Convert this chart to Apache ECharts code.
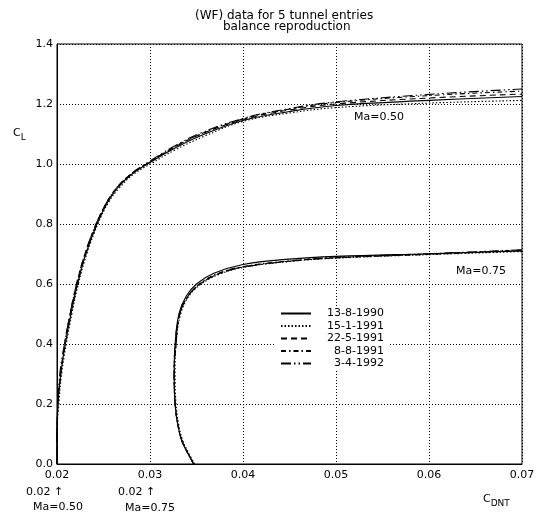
<!DOCTYPE html>
<html>
<head>
<meta charset="utf-8">
<script src="https://cdn.jsdelivr.net/npm/echarts@6/dist/echarts.min.js"></script>
<style>
  html, body { margin: 0; padding: 0; background: #fff; }
  #chart { width: 539px; height: 514px; }
</style>
</head>
<body>
<div id="chart"></div>
<script>
// legend names (tunnel entries)
const entries = ['13-8-1990', '15-1-1991', '22-5-1991', '8-8-1991', '3-4-1992'];

// Ma=0.50 polars [CDNT, CL]
const ma50_1 = [[0.0200,0.00],[0.0200,0.10],[0.0201,0.20],[0.0204,0.30],[0.0209,0.40],[0.0215,0.50],[0.0222,0.60],[0.0231,0.70],[0.0243,0.80],[0.0254,0.87],[0.0265,0.92],[0.0280,0.965],[0.0300,1.005],[0.0325,1.05],[0.0355,1.095],[0.0400,1.145],[0.0450,1.175],[0.0500,1.195],[0.0600,1.212],[0.0700,1.225]];
const ma50_2 = [[0.0200,0.00],[0.0200,0.10],[0.0202,0.20],[0.0205,0.30],[0.0210,0.40],[0.0216,0.50],[0.0223,0.60],[0.0232,0.70],[0.0244,0.80],[0.0255,0.87],[0.0267,0.92],[0.0282,0.965],[0.0302,1.003],[0.0327,1.047],[0.0358,1.092],[0.0400,1.142],[0.0450,1.170],[0.0500,1.188],[0.0600,1.203],[0.0700,1.212]];
const ma50_3 = [[0.0200,0.00],[0.0200,0.10],[0.0201,0.20],[0.0204,0.30],[0.0208,0.40],[0.0214,0.50],[0.0221,0.60],[0.0230,0.70],[0.0242,0.80],[0.0253,0.87],[0.0264,0.92],[0.0279,0.965],[0.0299,1.006],[0.0324,1.052],[0.0353,1.097],[0.0400,1.148],[0.0450,1.180],[0.0500,1.200],[0.0600,1.220],[0.0700,1.233]];
const ma50_4 = [[0.0200,0.00],[0.0200,0.10],[0.0201,0.20],[0.0204,0.30],[0.0209,0.40],[0.0215,0.50],[0.0222,0.60],[0.0231,0.70],[0.0243,0.80],[0.0254,0.87],[0.0265,0.92],[0.0280,0.966],[0.0300,1.007],[0.0324,1.053],[0.0353,1.098],[0.0400,1.150],[0.0450,1.183],[0.0500,1.205],[0.0600,1.228],[0.0700,1.243]];
const ma50_5 = [[0.0200,0.00],[0.0200,0.10],[0.0201,0.20],[0.0203,0.30],[0.0208,0.40],[0.0214,0.50],[0.0221,0.60],[0.0230,0.70],[0.0242,0.80],[0.0253,0.87],[0.0264,0.92],[0.0279,0.966],[0.0299,1.008],[0.0323,1.054],[0.0352,1.100],[0.0400,1.152],[0.0450,1.185],[0.0500,1.207],[0.0600,1.232],[0.0700,1.250]];

// Ma=0.75 polars [CDNT, CL]
const ma75_1 = [[0.0347,0.00],[0.0340,0.04],[0.0334,0.08],[0.0330,0.13],[0.0327,0.20],[0.0326,0.30],[0.0327,0.40],[0.0331,0.50],[0.0339,0.56],[0.0350,0.60],[0.0368,0.635],[0.0400,0.665],[0.0450,0.683],[0.0500,0.692],[0.0600,0.701],[0.0700,0.710]];
const ma75_2 = [[0.0348,0.00],[0.0341,0.04],[0.0335,0.08],[0.0331,0.13],[0.0328,0.20],[0.0327,0.30],[0.0328,0.40],[0.0333,0.50],[0.0342,0.56],[0.0355,0.60],[0.0375,0.633],[0.0400,0.655],[0.0450,0.675],[0.0500,0.686],[0.0600,0.698],[0.0700,0.708]];
const ma75_3 = [[0.0347,0.00],[0.0340,0.04],[0.0334,0.08],[0.0330,0.13],[0.0327,0.20],[0.0326,0.30],[0.0328,0.40],[0.0332,0.50],[0.0341,0.56],[0.0354,0.60],[0.0373,0.633],[0.0400,0.657],[0.0450,0.676],[0.0500,0.687],[0.0600,0.699],[0.0700,0.711]];
const ma75_4 = [[0.0347,0.00],[0.0340,0.04],[0.0334,0.08],[0.0330,0.13],[0.0327,0.20],[0.0326,0.30],[0.0328,0.40],[0.0332,0.50],[0.0341,0.56],[0.0353,0.60],[0.0372,0.634],[0.0400,0.658],[0.0450,0.677],[0.0500,0.688],[0.0600,0.700],[0.0700,0.713]];
const ma75_5 = [[0.0347,0.00],[0.0340,0.04],[0.0334,0.08],[0.0330,0.13],[0.0327,0.20],[0.0326,0.30],[0.0327,0.40],[0.0332,0.50],[0.0341,0.56],[0.0354,0.60],[0.0373,0.633],[0.0400,0.656],[0.0450,0.676],[0.0500,0.689],[0.0600,0.701],[0.0700,0.714]];

const ma50 = [ma50_1, ma50_2, ma50_3, ma50_4, ma50_5];
const ma75 = [ma75_1, ma75_2, ma75_3, ma75_4, ma75_5];

const dashes = ['solid', [1.5, 2], [6, 4], [5, 3, 1.5, 3], [10, 3, 1.5, 3, 1.5, 3]];
const FONT = 'DejaVu Sans';

let chart = echarts.init(document.getElementById('chart'), null, { renderer: 'canvas' });

let series = [];
entries.forEach(function (name, i) {
  [ma50[i], ma75[i]].forEach(function (d) {
    series.push({
      name: name,
      type: 'line',
      data: d,
      symbol: 'none',
      smooth: 0.4,
      lineStyle: { color: '#000', width: 1.1, type: dashes[i] },
      itemStyle: { color: '#000' },
      animation: false
    });
  });
});

var option = {
  backgroundColor: '#fff',
  animation: false,
  textStyle: { fontFamily: FONT, color: '#000' },
  title: [
    { text: '(WF) data for 5 tunnel entries', left: 190, top: 5,
      textStyle: { fontFamily: FONT, fontSize: 12, fontWeight: 'normal', color: '#000' } },
    { text: 'balance reproduction', left: 218, top: 16,
      textStyle: { fontFamily: FONT, fontSize: 12, fontWeight: 'normal', color: '#000' } }
  ],
  grid: { left: 57, right: 17, top: 44, bottom: 50, show: true, borderColor: '#000', borderWidth: 1 },
  legend: {
    data: entries,
    orient: 'vertical',
    left: 276,
    top: 306,
    itemWidth: 30,
    itemHeight: 8,
    itemGap: 1.5,
    padding: [2, 6, 2, 4],
    backgroundColor: '#fff',
    selectedMode: false,
    itemStyle: { color: 'rgba(0,0,0,0)', borderWidth: 0, borderColor: 'rgba(0,0,0,0)' },
    formatter: function (n) { return '{a|' + n + '}'; },
    textStyle: {
      fontFamily: FONT, fontSize: 11, color: '#000',
      rich: { a: { width: 68, align: 'right', fontFamily: FONT, fontSize: 11, color: '#000', lineHeight: 14 } }
    }
  },
  xAxis: {
    type: 'value',
    min: 0.02, max: 0.07, interval: 0.01,
    axisLine: { lineStyle: { color: '#000', width: 1 } },
    axisTick: { show: false },
    axisLabel: { color: '#000', fontFamily: FONT, fontSize: 11, margin: 6,
      formatter: function (v) { return v.toFixed(2); } },
    splitLine: { show: true, lineStyle: { color: '#000', type: [1, 2], width: 1 } }
  },
  yAxis: {
    type: 'value',
    min: 0, max: 1.4, interval: 0.2,
    axisLine: { show: true, lineStyle: { color: '#000', width: 1 } },
    axisTick: { show: false },
    axisLabel: { color: '#000', fontFamily: FONT, fontSize: 11, margin: 4,
      formatter: function (v) { return v.toFixed(1); } },
    splitLine: { show: true, lineStyle: { color: '#000', type: [1, 2], width: 1 } }
  },
  graphic: [
    { type: 'text', left: 13, top: 128, style: { text: '{c|C}{s|L}', rich: {
        c: { fontFamily: FONT, fontSize: 11, fill: '#000' },
        s: { fontFamily: FONT, fontSize: 9, fill: '#000', padding: [8, 0, 0, 0] } } } },
    { type: 'text', left: 483, top: 494, style: { text: '{c|C}{s|DNT}', rich: {
        c: { fontFamily: FONT, fontSize: 11, fill: '#000' },
        s: { fontFamily: FONT, fontSize: 9, fill: '#000', padding: [8, 0, 0, 0] } } } },
    { type: 'text', left: 354, top: 112, style: { text: 'Ma=0.50', font: '11px "DejaVu Sans"', fill: '#000' } },
    { type: 'text', left: 456, top: 266, style: { text: 'Ma=0.75', font: '11px "DejaVu Sans"', fill: '#000' } },
    { type: 'text', left: 26, top: 487, style: { text: '0.02 ↑', font: '11px "DejaVu Sans"', fill: '#000' } },
    { type: 'text', left: 33, top: 502, style: { text: 'Ma=0.50', font: '11px "DejaVu Sans"', fill: '#000' } },
    { type: 'text', left: 118, top: 487, style: { text: '0.02 ↑', font: '11px "DejaVu Sans"', fill: '#000' } },
    { type: 'text', left: 125, top: 503, style: { text: 'Ma=0.75', font: '11px "DejaVu Sans"', fill: '#000' } }
  ],
  series: series
};
chart.setOption(option);
</script>
</body>
</html>
